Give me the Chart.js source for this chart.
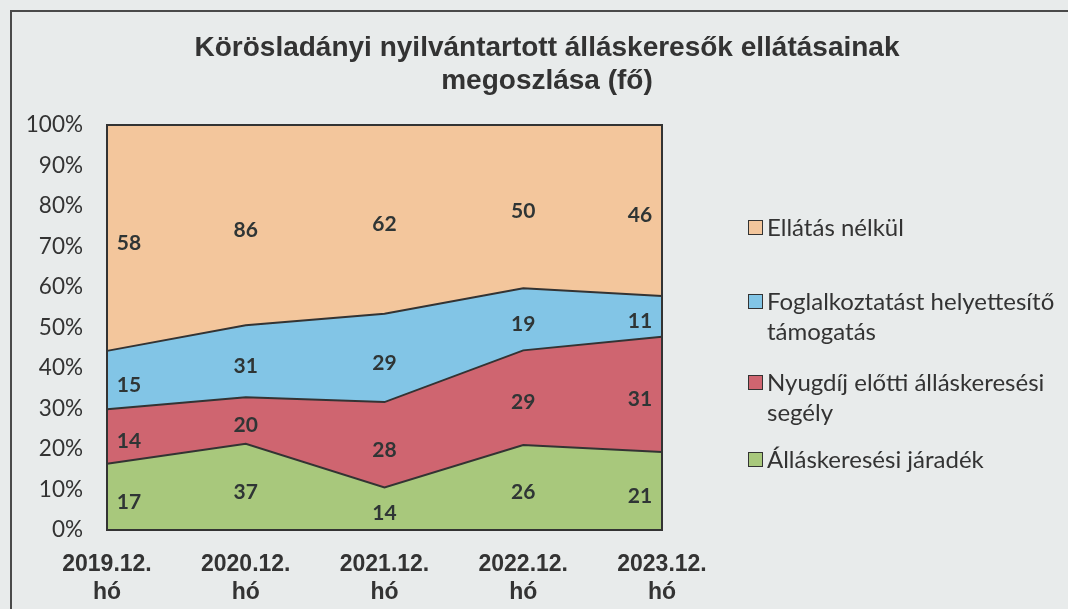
<!DOCTYPE html>
<html>
<head>
<meta charset="utf-8">
<script src="https://cdn.jsdelivr.net/npm/chart.js@4/dist/chart.umd.min.js"></script>
<style>
  body { margin: 0; background: #e8ebeb; }
  #wrap { position: relative; width: 1068px; height: 609px; overflow: hidden; background: #e8ebeb; }
  #frame { position: absolute; left: 10px; top: 10px; width: 1080px; height: 640px; border: 2px solid #4a4a4a; box-sizing: border-box; }
  #chart { position: absolute; left: 0; top: 0; }
  #legend { position: absolute; left: 748px; top: 0; font-family: Lato, sans-serif; font-size: 24px; color: #333; }
  .item { position: absolute; left: 0; white-space: nowrap; line-height: 30px; }
  .item .sq { position: absolute; left: 0; top: 8px; width: 13px; height: 13px; border: 1.5px solid #333; }
  .item .txt { position: absolute; left: 19px; top: 0; }
</style>
</head>
<body>
<div id="wrap">
  <div id="frame"></div>
  <canvas id="chart" width="1068" height="609"></canvas>
  <div id="legend"></div>
</div>
<script>
const TITLE = ['Körösladányi nyilvántartott álláskeresők ellátásainak', 'megoszlása (fő)']
const LABELS = [['2019.12.', 'hó'], ['2020.12.', 'hó'], ['2021.12.', 'hó'], ['2022.12.', 'hó'], ['2023.12.', 'hó']]

// counts (fő), bottom to top
const jaradek     = [17, 37, 14, 26, 21]
const nyugdij     = [14, 20, 28, 29, 31]
const foglalkoz   = [15, 31, 29, 19, 11]
const nelkul      = [58, 86, 62, 50, 46]

const SERIES = [
  { name: 'Álláskeresési járadék', legend: ['Álláskeresési járadék'], data: jaradek, color: '#a8c87c' },
  { name: 'Nyugdíj előtti álláskeresési segély', legend: ['Nyugdíj előtti álláskeresési', 'segély'], data: nyugdij, color: '#cf6570' },
  { name: 'Foglalkoztatást helyettesítő támogatás', legend: ['Foglalkoztatást helyettesítő', 'támogatás'], data: foglalkoz, color: '#82c5e6' },
  { name: 'Ellátás nélkül', legend: ['Ellátás nélkül'], data: nelkul, color: '#f3c69c' }
]

const totals = LABELS.map((_, i) => SERIES.reduce((s, d) => s + d.data[i], 0))

// legend (html)
const LEGEND_TOP = { 'Ellátás nélkül': 212, 'Foglalkoztatást helyettesítő támogatás': 286, 'Nyugdíj előtti álláskeresési segély': 367, 'Álláskeresési járadék': 444 }
const legendEl = document.getElementById('legend')
SERIES.slice().reverse().forEach(s => {
  const it = document.createElement('div')
  it.className = 'item'
  it.style.top = LEGEND_TOP[s.name] + 'px'
  it.innerHTML = '<div class="sq" style="background:' + s.color + '"></div><div class="txt">' + s.legend.join('<br>') + '</div>'
  legendEl.appendChild(it)
})

const titlePlugin = {
  id: 'titleDraw',
  afterDraw(chart) {
    const ctx = chart.ctx
    ctx.save()
    ctx.font = 'bold 28px "Liberation Sans", Arial, sans-serif'
    ctx.fillStyle = '#333'
    ctx.textAlign = 'center'
    ctx.textBaseline = 'middle'
    ctx.fillText(TITLE[0], 547, 48)
    ctx.fillText(TITLE[1], 547, 81)
    ctx.restore()
  }
}

const valuePlugin = {
  id: 'values',
  afterDatasetsDraw(chart) {
    const ctx = chart.ctx
    const a = chart.chartArea
    ctx.save()
    ctx.strokeStyle = '#333'
    ctx.lineWidth = 2
    ctx.strokeRect(a.left, a.top, a.right - a.left, a.bottom - a.top)
    ctx.font = 'bold 21px Lato, sans-serif'
    ctx.fillStyle = '#2f3535'
    ctx.textAlign = 'center'
    ctx.textBaseline = 'middle'
    SERIES.forEach((s, di) => {
      const meta = chart.getDatasetMeta(di)
      const below = di > 0 ? chart.getDatasetMeta(di - 1) : null
      meta.data.forEach((pt, i) => {
        const base = below ? below.data[i].y : a.bottom
        const x = Math.min(Math.max(pt.x, a.left + 22), a.right - 22)
        ctx.fillText(String(s.data[i]), x, (pt.y + base) / 2 + 5)
      })
    })
    ctx.restore()
  }
}

new Chart(document.getElementById('chart'), {
  type: 'line',
  data: {
    labels: LABELS,
    datasets: SERIES.map((s, di) => ({
      label: s.name,
      data: s.data.map((v, i) => v / totals[i] * 100),
      backgroundColor: s.color,
      borderColor: '#333',
      borderWidth: 2,
      pointRadius: 0,
      tension: 0,
      fill: di === 0 ? 'origin' : '-1'
    }))
  },
  options: {
    responsive: false,
    animation: false,
    layout: { padding: { left: 0, right: 406, top: 125, bottom: 0 } },
    plugins: { legend: { display: false }, title: { display: false }, tooltip: { enabled: false } },
    scales: {
      x: {
        offset: false,
        grid: { display: false },
        border: { display: false },
        ticks: { color: '#333', padding: 13, maxRotation: 0, font: { size: 23, weight: 'bold', family: '"Liberation Sans", Arial, sans-serif', lineHeight: 1.22 } },
        afterFit: sc => { sc.height = 79 }
      },
      y: {
        stacked: true,
        min: 0,
        max: 100,
        grid: { display: false, drawTicks: false },
        border: { display: false },
        ticks: { stepSize: 10, color: '#333', padding: 24, font: { size: 22.5, family: 'Lato, sans-serif' }, callback: v => v + '%' },
        afterFit: sc => { sc.width = 107 }
      }
    }
  },
  plugins: [titlePlugin, valuePlugin]
})
</script>
</body>
</html>
